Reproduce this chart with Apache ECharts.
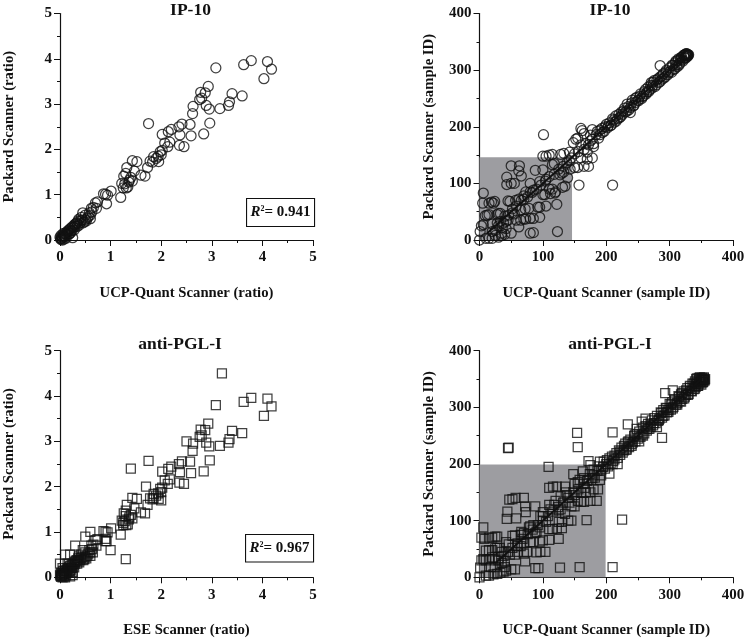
<!DOCTYPE html>
<html><head><meta charset="utf-8">
<style>html,body{margin:0;padding:0;background:#fff}#c{width:748px;height:640px}</style>
<script src="https://cdn.jsdelivr.net/npm/echarts@6/dist/echarts.min.js"></script>
</head><body><div id="c"></div>
<script>
const titles = ['IP-10','IP-10','anti-PGL-I','anti-PGL-I'];
const xNames = ['UCP-Quant Scanner (ratio)','UCP-Quant Scanner (sample ID)','ESE Scanner (ratio)','UCP-Quant Scanner (sample ID)'];
const yNames = ['Packard Scanner (ratio)','Packard Scanner (sample ID)','Packard Scanner (ratio)','Packard Scanner (sample ID)'];
const r2Values = ['0.941','0.967'];
const shade2 = 146, shade4 = 199;

const ratioShared = [[4.18,3.77],[4.1,3.94],[4.03,3.56],[3.78,3.96],[3.63,3.87],[3.6,3.18],[3.4,3.23],[3.35,3.05],[3.33,2.97],[3.16,2.9],[3.08,3.8],[2.96,2.58],[2.95,2.89],[2.93,3.39],[2.89,2.97],[2.87,3.25],[2.84,2.34],[2.78,3.26],[2.76,3.1],[2.8,3.13],[2.63,2.95],[2.62,2.79],[2.59,2.3],[2.57,2.55],[2.41,2.56],[2.45,2.06],[2.37,2.32],[2.35,2.5],[2.36,2.09],[2.2,2.44],[2.14,2.39],[2.17,2.16],[2.13,2.06],[2.07,2.14],[2.02,2.33],[2.02,1.98],[1.98,1.95],[2.0,1.88],[1.95,1.73],[1.94,1.85],[1.9,1.8],[1.85,1.84],[1.83,1.72],[1.75,2.57],[1.78,1.74],[1.73,1.6],[1.68,1.41],[1.6,1.43],[1.52,1.73],[1.43,1.75],[1.47,1.52],[1.32,1.6],[1.3,1.47],[1.26,1.41],[1.43,1.3],[1.4,1.38],[1.37,1.32],[1.34,1.17],[1.28,1.24],[1.25,1.15],[1.22,1.25],[1.2,0.94],[1.31,1.15],[1.36,1.28],[1.01,1.08],[0.94,0.99],[0.9,1.01],[0.92,0.8],[0.86,1.02],[0.74,0.84],[0.7,0.82],[0.72,0.7],[0.62,0.7],[0.66,0.72],[0.6,0.55],[0.63,0.62],[0.6,0.47],[0.56,0.52],[0.5,0.55],[0.52,0.42],[0.45,0.6],[0.48,0.4],[0.42,0.5],[0.44,0.44],[0.4,0.38],[0.37,0.46],[0.36,0.42],[0.35,0.35],[0.33,0.38],[0.3,0.3],[0.29,0.34],[0.27,0.28],[0.25,0.05],[0.25,0.3],[0.23,0.27],[0.22,0.2],[0.2,0.25],[0.18,0.22],[0.19,0.14],[0.16,0.18],[0.15,0.2],[0.14,0.12],[0.13,0.16],[0.11,0.13],[0.1,0.08],[0.09,0.15],[0.08,0.07],[0.07,0.1],[0.06,0.14],[0.05,0.05],[0.05,0.0],[0.04,0.08],[0.03,0.03],[0.02,0.01],[0.02,0.1],[0.0,0.06],[0.01,0.03],[0.12,0.04],[0.08,0.02],[0.28,0.22],[0.31,0.36],[0.34,0.3],[0.38,0.33],[0.41,0.43],[0.46,0.38],[0.5,0.45],[0.54,0.48],[0.58,0.6],[0.17,0.12],[0.21,0.16],[0.24,0.21]];
const ratioExtra = [[3.2,4.5],[1.4,2.4],[1.3,0.4],[1.0,0.6],[2.5,3.0],[1.7,2.0],[0.6,1.0],[0.5,0.9],[0.3,0.7],[0.1,0.5],[0.2,0.5],[0.0,0.3],[0.9,0.85],[0.9,0.8],[2.0,1.7],[1.85,1.75],[0.15,0.3],[0.05,0.2],[0.2,0.02],[0.25,0.12],[0.1,0.0],[1.3,1.35],[1.25,1.2],[0.65,0.55]];

const idPoints2 = [[101,186],[210,97],[157,97],[285,308],[160,197],[162,193],[50,131],[63,131],[62,122],[66,113],[43,111],[43,98],[50,100],[55,100],[6,83],[5,65],[15,65],[19,67],[24,68],[22,65],[45,69],[48,68],[57,70],[62,72],[70,78],[73,85],[80,85],[85,88],[88,123],[100,124],[95,103],[105,107],[80,100],[100,80],[103,80],[110,90],[112,82],[115,90],[120,85],[122,63],[123,15],[119,83],[131,93],[135,95],[139,110],[127,115],[130,118],[133,120],[100,148],[105,148],[110,150],[115,151],[128,151],[133,153],[118,135],[115,133],[142,155],[142,140],[143,125],[150,128],[155,128],[165,130],[172,130],[178,145],[170,143],[160,145],[165,160],[170,155],[180,165],[175,175],[178,195],[148,172],[152,178],[155,180],[165,188],[175,185],[180,170],[50,12],[80,12],[85,13],[62,23],[80,38],[85,38],[95,40],[95,58],[92,58],[105,60],[78,56],[70,37],[73,37],[65,35],[58,35],[52,48],[55,46],[65,53],[72,55],[10,3],[15,3],[20,3],[0,0],[1,15],[3,25],[6,27],[9,43],[12,44],[15,45],[20,28],[20,15],[25,17],[28,30],[28,45],[30,47],[33,47],[35,12],[30,5],[35,8],[40,10],[42,20],[45,35],[42,33],[38,30],[36,22],[30,25],[25,8],[33,33],[40,42],[46,44],[52,55],[58,60],[66,70],[70,72],[76,76],[83,84],[90,90],[97,97],[104,104],[110,112],[118,116],[125,125],[132,130],[138,136],[145,145],[150,152],[156,156],[160,168],[168,170],[172,168],[178,178],[184,186],[188,180],[190,194],[194,190],[198,200],[202,198],[205,207],[208,203],[212,212],[216,210],[220,222],[223,218],[227,228],[230,226],[233,240],[236,230],[238,225],[240,242],[244,238],[246,250],[250,247],[253,254],[256,250],[260,262],[263,258],[266,270],[268,265],[271,278],[273,272],[276,282],[279,274],[282,285],[285,280],[288,290],[291,286],[294,297],[297,292],[300,304],[303,296],[305,308],[308,302],[310,316],[312,306],[314,320],[316,312],[318,322],[320,318],[322,326],[324,322],[325,328],[326,325],[327,329],[328,326],[329,327]];
const idBand2 = [[186,192],[190,186],[193,197],[197,192],[200,204],[203,201],[207,202],[210,214],[213,208],[215,219],[218,214],[221,216],[224,226],[226,222],[229,233],[232,227],[235,236],[238,234],[241,247],[243,237],[246,243],[248,252],[251,246],[254,258],[257,253],[259,255],[262,266],[264,261],[267,262],[270,273],[272,268],[274,279],[277,271],[280,283],[283,278],[285,288],[288,284],[290,294],[293,288],[295,300],[298,295],[301,298],[304,309],[306,301],[309,313],[311,309],[313,317],[315,309],[317,319],[319,323],[321,316],[323,327],[325,321],[326,329],[327,323],[328,328],[329,325],[330,327]];

const idPoints4 = [[45,228],[46,229],[154,255],[155,230],[210,256],[234,270],[288,246],[293,325],[305,330],[109,195],[172,205],[175,198],[225,102],[169,101],[210,18],[158,18],[127,17],[88,16],[93,16],[44,116],[43,103],[58,104],[47,137],[52,138],[57,140],[70,140],[72,125],[73,115],[6,88],[3,70],[8,68],[15,70],[20,70],[25,72],[28,72],[10,47],[15,48],[20,48],[25,52],[28,52],[32,52],[0,0],[1,17],[3,30],[6,32],[10,30],[15,32],[20,35],[25,30],[30,33],[35,25],[40,28],[18,18],[24,18],[10,3],[15,3],[22,5],[28,6],[33,8],[38,10],[42,12],[50,14],[56,14],[48,40],[56,40],[60,55],[65,55],[52,73],[56,74],[65,75],[70,78],[72,28],[70,42],[75,45],[80,62],[85,62],[90,44],[96,45],[104,45],[95,63],[100,65],[110,66],[125,68],[80,90],[85,92],[90,80],[95,88],[100,108],[110,128],[118,128],[88,125],[100,115],[110,85],[115,85],[122,86],[130,87],[125,98],[130,98],[140,100],[145,100],[135,112],[145,125],[125,118],[110,158],[116,160],[122,160],[135,160],[150,165],[155,168],[148,182],[128,143],[138,145],[160,133],[165,133],[175,135],[185,135],[150,125],[155,135],[180,155],[187,155],[168,150],[175,150],[160,150],[165,175],[170,170],[190,172],[178,175],[163,187],[180,190],[190,204],[200,200],[205,183],[195,195],[210,200],[213,215],[218,200],[222,222],[228,232],[232,225],[235,240],[240,232],[245,252],[248,262],[252,240],[256,275],[262,280],[258,250],[265,262],[270,268],[275,272],[280,265],[283,278],[287,290],[290,285],[295,298],[298,292],[302,305],[305,298],[308,312],[312,305],[315,318],[318,310],[320,325],[323,316],[326,330],[329,322],[332,335],[335,328],[338,342],[340,333],[342,350],[344,338],[346,352],[348,345],[350,350],[352,344],[353,348],[354,351],[350,340],[355,349],[30,30],[38,38],[45,45],[52,52],[60,60],[68,68],[76,76],[84,84],[92,92],[100,100],[108,108],[116,116],[124,124],[132,132],[140,140],[148,150],[156,155],[164,165],[172,172],[180,180],[186,188],[192,190]];
const idBand4 = [[196,204],[198,192],[201,207],[203,196],[205,210],[207,201],[209,213],[211,205],[213,208],[216,219],[218,211],[220,224],[222,216],[224,229],[226,220],[228,224],[230,236],[232,227],[234,238],[236,230],[238,243],[240,235],[242,238],[244,249],[246,240],[248,253],[250,245],[252,257],[254,248],[256,252],[258,264],[260,254],[262,267],[264,259],[266,271],[268,262],[270,265],[272,277],[274,268],[276,281],[278,272],[280,285],[282,276],[284,280],[286,291],[288,282],[290,295],[292,286],[294,299],[296,291],[298,295],[300,306],[302,296],[304,309],[306,301],[308,314],[310,305],[312,308],[314,320],[316,311],[318,323],[320,315],[322,328],[324,319],[326,322],[328,334],[330,324],[332,338],[334,329],[336,342],[338,332],[340,346],[341,336],[342,341],[343,351],[344,344],[345,338],[346,348],[347,342],[348,353],[349,347],[350,344],[351,352],[352,349],[353,345],[354,353],[355,347],[356,350],[150,145],[158,172],[166,158],[174,182],[182,176],[188,196],[192,180],[120,135],[128,120],[136,150],[142,132],[105,98],[112,120],[88,78],[96,108],[70,60],[78,88],[60,45],[66,80],[40,18],[46,58],[35,45],[42,62]];

const fit2 = [[12,12],[325,325]];
const fit4 = [[25,25],[350,350]];

const grids = [
  {left:60, top:13.5, width:253, height:226.5},
  {left:479.5, top:13.5, width:253.5, height:226.5},
  {left:60, top:350.7, width:253, height:226.6},
  {left:479.5, top:350.7, width:253.5, height:226.6}
];
const titleAt = [[185.5,-4],[605,-4],[175,330],[605,330]];
const xNameGap = [46,46,45,45];
const serif = '"Liberation Serif", serif';
const ink = '#111';
const axisMax = [5,400,5,400], axisStep = [1,100,1,100];

function axis(kind, i){
  return {
    type:'value', gridIndex:i, min:0, max:axisMax[i], interval:axisStep[i],
    splitLine:{show:false},
    axisLine:{show:true, onZero:false, lineStyle:{color:ink, width:1.2}},
    axisTick:{show:true, length:6, lineStyle:{color:ink, width:1}},
    minorTick:{show:true, splitNumber:2, length:3, lineStyle:{color:ink, width:1}},
    axisLabel:{color:ink, fontFamily:serif, fontWeight:'bold', fontSize:15, margin:kind==='x'?10:8},
    name:kind==='x'?xNames[i]:yNames[i],
    nameLocation:'middle',
    nameGap:kind==='x'?xNameGap[i]:43,
    nameTextStyle:{color:ink, fontFamily:serif, fontWeight:'bold', fontSize:14.7}
  };
}
function scatter(i, data, symbol, size, shade){
  const s = {type:'scatter', xAxisIndex:i, yAxisIndex:i, data, symbol, symbolSize:size, clip:false, silent:true, large:false,
    itemStyle:{color:'rgba(0,0,0,0)', borderColor:'#111', borderWidth:1.25}, animation:false};
  if(shade) s.markArea = {silent:true, itemStyle:{color:'#9d9da1', opacity:1}, data:[[{coord:[0,0]},{coord:[shade,shade]}]]};
  return s;
}
function fit(i, data){
  return {type:'line', xAxisIndex:i, yAxisIndex:i, data, symbol:'none', silent:true, animation:false,
    lineStyle:{color:'#111', width:2}};
}
function r2Box(x,y,w,h,val){
  return {type:'group', left:x, top:y, children:[
    {type:'rect', shape:{x:0,y:0,width:w,height:h}, style:{fill:'#fff', stroke:'#111', lineWidth:1.1}},
    {type:'text', x:w/2, y:h/2, style:{
      text:'{i|R}{s|2}{b|= '+val+'}', align:'center', verticalAlign:'middle',
      rich:{i:{fontFamily:serif,fontStyle:'italic',fontWeight:'bold',fontSize:15,fill:'#111'},
            s:{fontFamily:serif,fontWeight:'bold',fontSize:8,fill:'#111',verticalAlign:'top',padding:[0,0,6,0]},
            b:{fontFamily:serif,fontWeight:'bold',fontSize:15,fill:'#111'}}
    }}
  ]};
}
const chart = echarts.init(document.getElementById('c'));
chart.setOption({
  animation:false, backgroundColor:'#fff',
  grid:grids,
  title:titles.map((t,i)=>({text:t, left:titleAt[i][0], top:titleAt[i][1], textAlign:'center',
    textStyle:{color:ink, fontFamily:serif, fontWeight:'bold', fontSize:17.5}})),
  xAxis:[0,1,2,3].map(i=>axis('x',i)),
  yAxis:[0,1,2,3].map(i=>axis('y',i)),
  series:[
    scatter(0, ratioShared, 'circle', 10),
    scatter(1, idPoints2.concat(idBand2), 'circle', 10, shade2),
    fit(1, fit2),
    scatter(2, ratioShared.concat(ratioExtra), 'rect', 9),
    scatter(3, idPoints4.concat(idBand4), 'rect', 9, shade4),
    fit(3, fit4)
  ],
  graphic:[r2Box(246,198,68,28,r2Values[0]), r2Box(245,534,68,27.5,r2Values[1])]
});
</script></body></html>
